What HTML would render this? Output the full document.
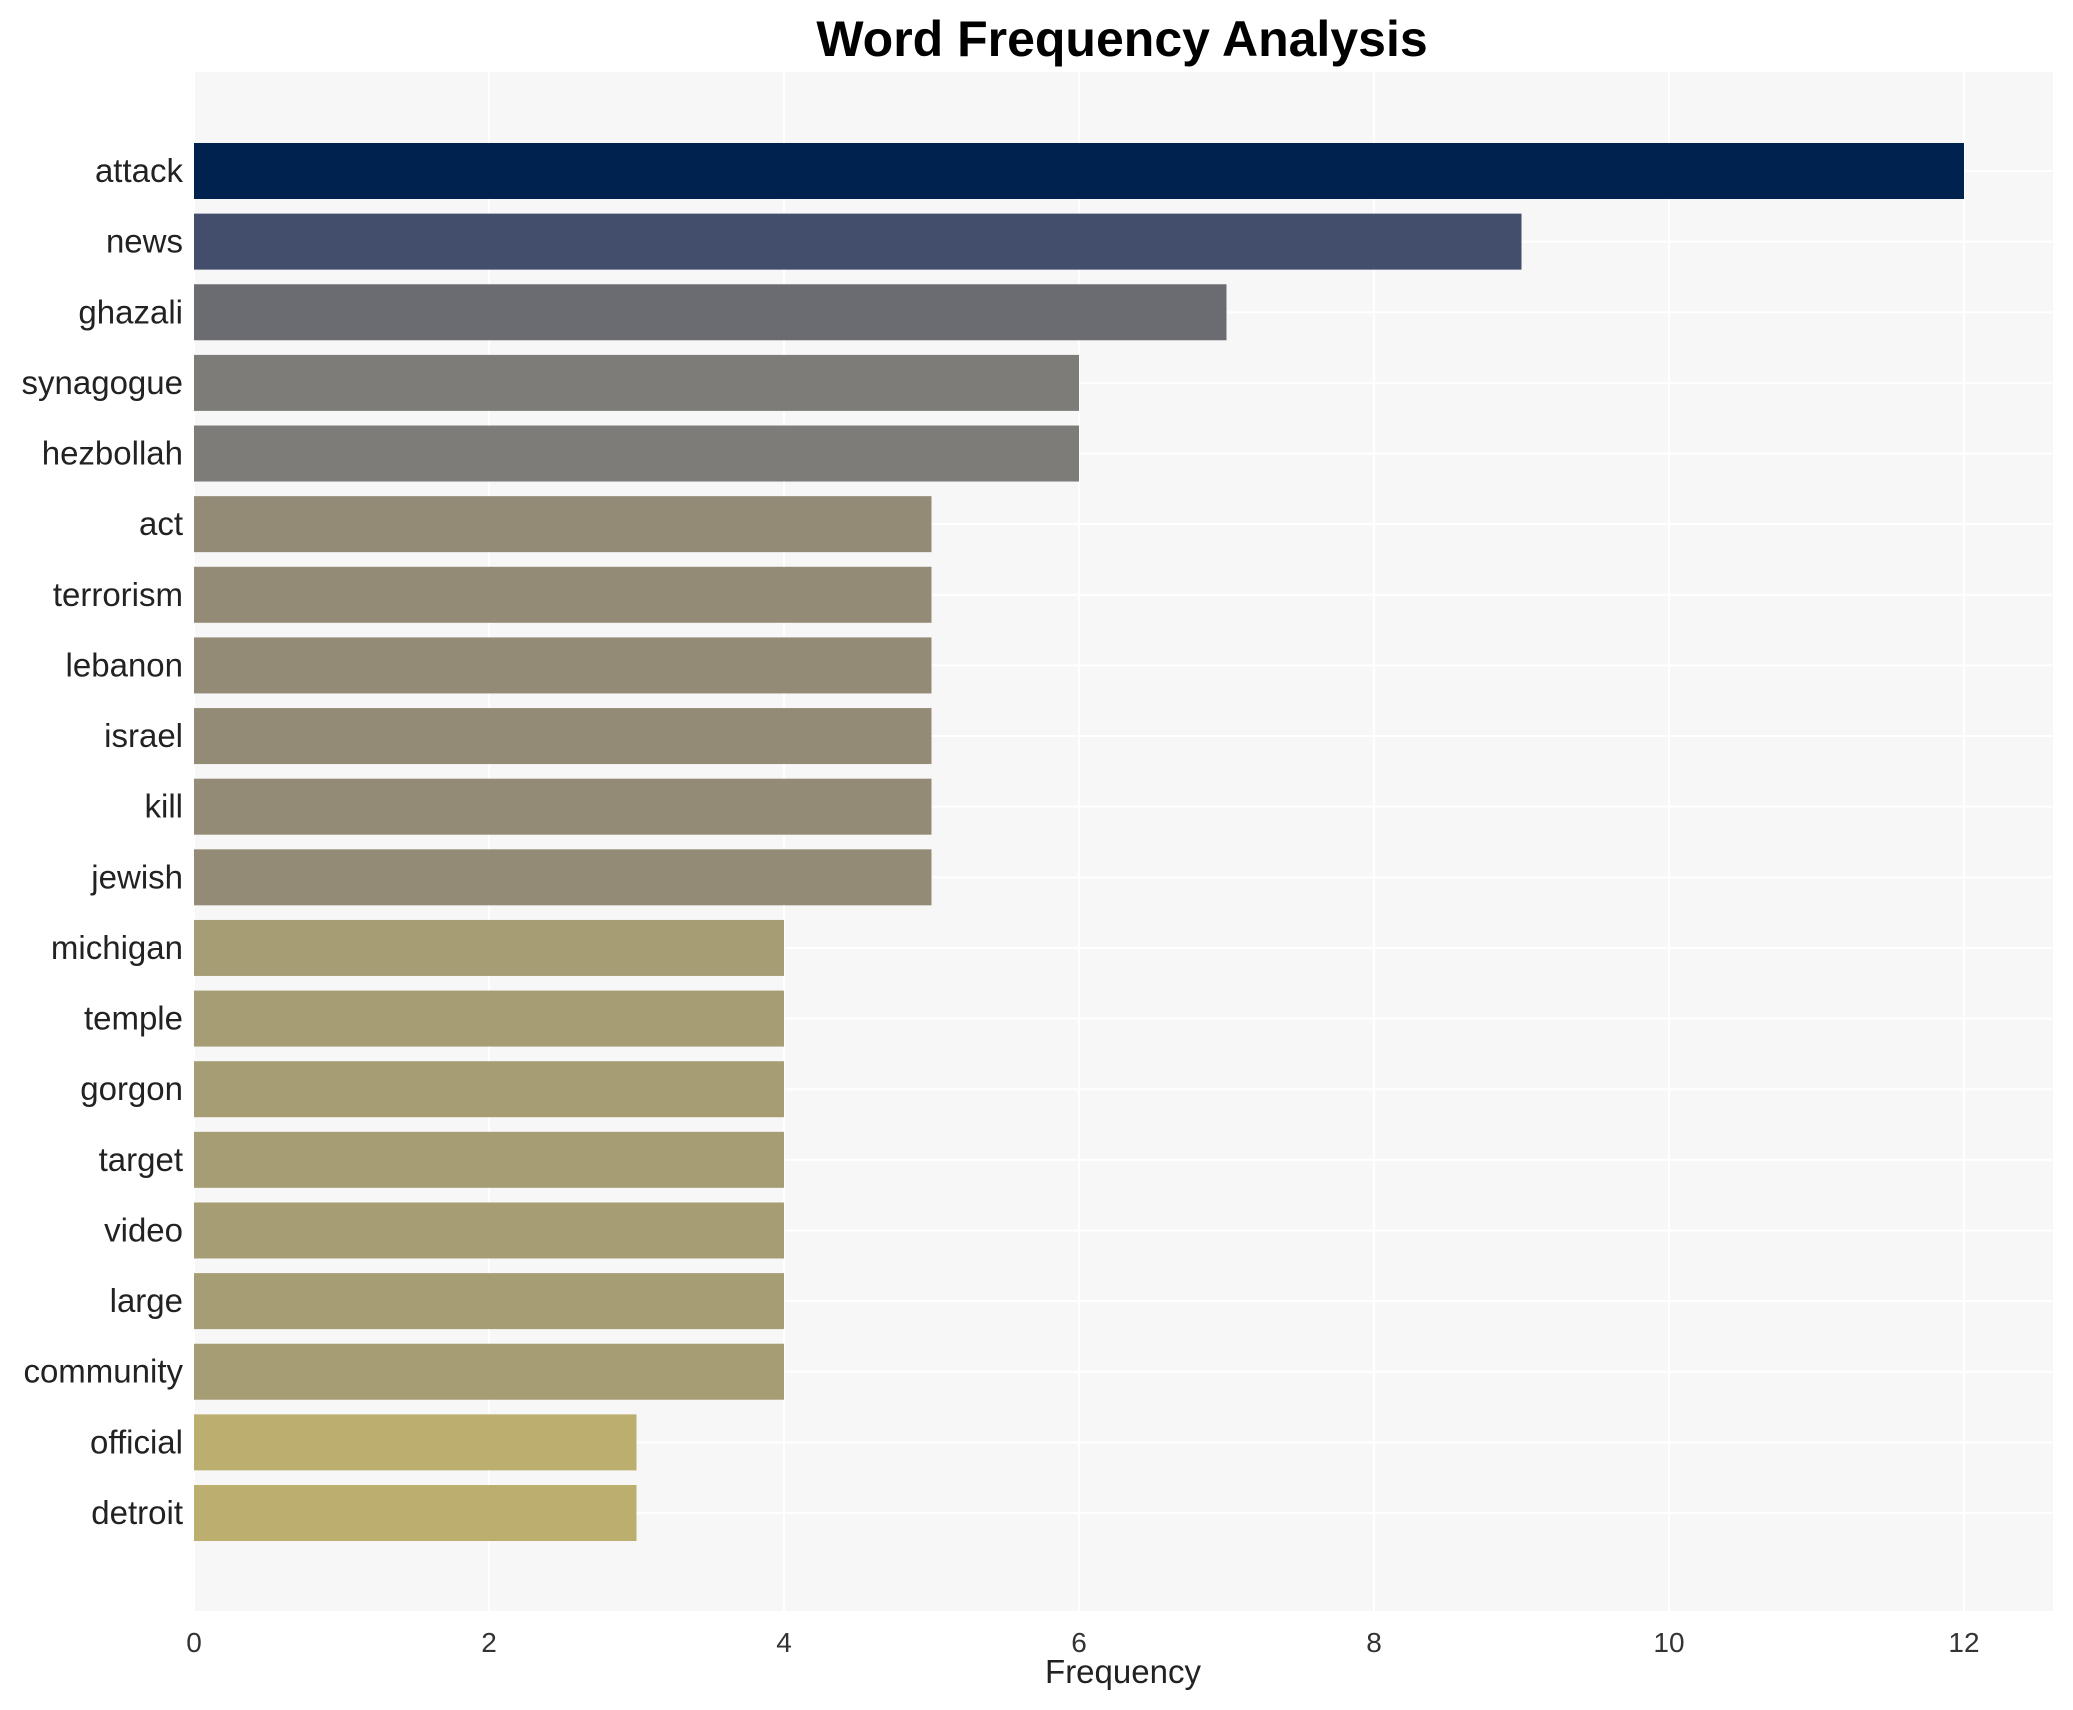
<!DOCTYPE html>
<html><head><meta charset="utf-8"><style>
html,body{margin:0;padding:0;background:#fff;}
svg{display:block;font-family:"Liberation Sans",Arial,sans-serif;}
</style></head><body>
<svg id="chart" width="2073" height="1710">
<rect x="194" y="72" width="1859" height="1539" fill="#f7f7f7"/>
<g id="grid"></g><g id="bars"></g><g id="labels"></g>
<text x="1122" y="56" text-anchor="middle" font-size="50" font-weight="bold" fill="#000">Word Frequency Analysis</text>
<text x="1123" y="1683" text-anchor="middle" font-size="33" fill="#222">Frequency</text>
</svg>
<script>
const categories = ["attack","news","ghazali","synagogue","hezbollah","act","terrorism","lebanon","israel","kill","jewish","michigan","temple","gorgon","target","video","large","community","official","detroit"];
const values = [12,9,7,6,6,5,5,5,5,5,5,4,4,4,4,4,4,4,3,3];
const colors = ["#00224e","#434e6c","#6b6c72","#7d7c78","#7d7c78","#948b76","#948b76","#948b76","#948b76","#948b76","#948b76","#a69d75","#a69d75","#a69d75","#a69d75","#a69d75","#a69d75","#a69d75","#bcae6e","#bcae6e"];
const ticks = [0,2,4,6,8,10,12];
const NS="http://www.w3.org/2000/svg";
const x0=194, unit=(1964-194)/12, right=2053;
const X=v=>x0+v*unit;
const rowY0=171, pitch=(1513-171)/19, bh=56;
const Y=i=>rowY0+i*pitch;
function mk(t,a,p){const e=document.createElementNS(NS,t);for(const k in a)e.setAttribute(k,a[k]);p.appendChild(e);return e;}
const grid=document.getElementById('grid'),bars=document.getElementById('bars'),labels=document.getElementById('labels');
ticks.forEach(v=>{const l=mk('line',{x1:X(v),x2:X(v),y1:72,y2:1611,stroke:'#ffffff','stroke-width':2},grid);


const t=mk('text',{x:X(v),y:1652,'text-anchor':'middle','font-size':28,fill:'#333'},labels);t.textContent=v;

});
categories.forEach((c,i)=>{const g=mk('line',{x1:194,x2:right,y1:Y(i),y2:Y(i),stroke:'#ffffff','stroke-width':2},grid);


const r=mk('rect',{x:X(0),y:Y(i)-bh/2,width:X(values[i])-X(0),height:bh,fill:colors[i]},bars);


const t=mk('text',{x:183,y:Y(i)+11,'text-anchor':'end','font-size':33,fill:'#222'},labels);t.textContent=c;

});
</script>
</body></html>
